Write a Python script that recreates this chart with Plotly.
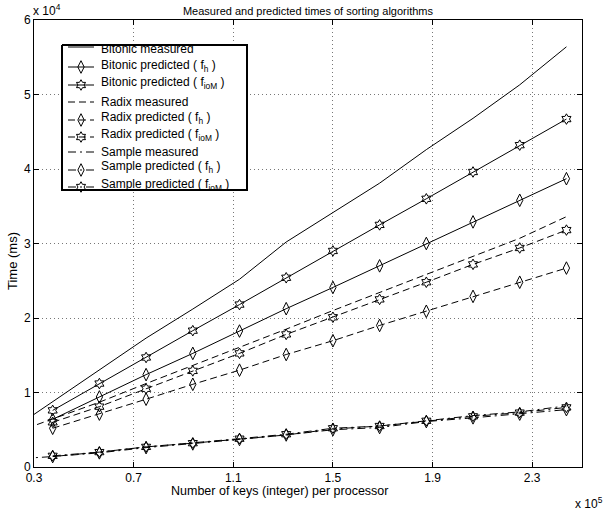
import plotly.graph_objects as go

# x: number of keys per processor (x 1e5)
keys_measured = [0.1875, 0.375, 0.5625, 0.75, 0.9375, 1.125, 1.3125, 1.5, 1.6875, 1.875, 2.0625, 2.25, 2.4375]
keys_pred = [0.375, 0.5625, 0.75, 0.9375, 1.125, 1.3125, 1.5, 1.6875, 1.875, 2.0625, 2.25, 2.4375]

# times (ms, x 1e4)
bitonic_measured = [0.45, 0.88, 1.30, 1.73, 2.12, 2.52, 3.02, 3.41, 3.81, 4.26, 4.68, 5.13, 5.64]
bitonic_fh = [0.64, 0.94, 1.24, 1.525, 1.825, 2.125, 2.41, 2.70, 3.00, 3.29, 3.58, 3.87]
bitonic_fiom = [0.76, 1.12, 1.47, 1.83, 2.18, 2.54, 2.90, 3.25, 3.60, 3.96, 4.32, 4.67]

radix_measured = [0.42, 0.65, 0.87, 1.12, 1.36, 1.60, 1.85, 2.10, 2.34, 2.58, 2.82, 3.07, 3.36]
radix_fh = [0.52, 0.71, 0.91, 1.11, 1.30, 1.51, 1.695, 1.90, 2.09, 2.29, 2.48, 2.67]
radix_fiom = [0.60, 0.81, 1.05, 1.29, 1.525, 1.78, 2.01, 2.25, 2.48, 2.72, 2.94, 3.18]

sample_measured = [0.10, 0.14, 0.20, 0.27, 0.32, 0.38, 0.43, 0.51, 0.55, 0.62, 0.69, 0.74, 0.82]
sample_fh = [0.14, 0.19, 0.26, 0.31, 0.37, 0.43, 0.50, 0.53, 0.61, 0.66, 0.71, 0.77]
sample_fiom = [0.15, 0.20, 0.27, 0.32, 0.38, 0.44, 0.52, 0.55, 0.62, 0.68, 0.73, 0.80]

x_ticks = [0.3, 0.7, 1.1, 1.5, 1.9, 2.3]
x_ticklabels = ["0.3", "0.7", "1.1", "1.5", "1.9", "2.3"]
y_ticks = [0, 1, 2, 3, 4, 5, 6]

FONT = "Liberation Sans, Arial, Helvetica, sans-serif"
DASH = "7px,4px"
DASHDOT = "8px,4px,2px,4px"
DIAMOND = "diamond-tall-open"
HEX = "hexagram-open"

series = [
    ("Bitonic measured", keys_measured, bitonic_measured, "solid", None),
    ("Bitonic predicted ( f<sub>h</sub> )", keys_pred, bitonic_fh, "solid", DIAMOND),
    ("Bitonic predicted ( f<sub>ioM</sub> )", keys_pred, bitonic_fiom, "solid", HEX),
    ("Radix measured", keys_measured, radix_measured, DASH, None),
    ("Radix predicted ( f<sub>h</sub> )", keys_pred, radix_fh, DASH, DIAMOND),
    ("Radix predicted ( f<sub>ioM</sub> )", keys_pred, radix_fiom, DASH, HEX),
    ("Sample measured", keys_measured, sample_measured, DASHDOT, None),
    ("Sample predicted ( f<sub>h</sub> )", keys_pred, sample_fh, DASHDOT, DIAMOND),
    ("Sample predicted ( f<sub>ioM</sub> )", keys_pred, sample_fiom, DASHDOT, HEX),
]

# layout geometry (pixels)
W, H = 605, 513
ML, MR, MT, MB = 34, 23, 20, 46
PW, PH = W - ML - MR, H - MT - MB

def marker_style(sym):
    return dict(symbol=sym, size=9 if sym == DIAMOND else 8, color="black",
                line=dict(width=1, color="black"))

fig = go.Figure()
for name, xs, ys, dash, sym in series:
    fig.add_trace(go.Scatter(x=xs, y=ys, name=name, showlegend=False,
                             mode="lines" if sym is None else "lines+markers",
                             line=dict(color="black", width=1, dash=dash),
                             marker=marker_style(sym) if sym else None))

# ---- legend box drawn on a hidden overlay axis measured in pixels from the plot's top-left ----
LEG_L, LEG_T, LEG_R, LEG_B = 62 - ML, 45 - MT, 247 - ML, 190 - MT
fig.add_trace(go.Scatter(x=[LEG_L, LEG_R, LEG_R, LEG_L, LEG_L],
                         y=[LEG_T, LEG_T, LEG_B, LEG_B, LEG_T],
                         mode="lines", fill="toself", fillcolor="white",
                         line=dict(color="black", width=2),
                         xaxis="x2", yaxis="y2", showlegend=False, hoverinfo="skip"))
line_off = [2, 22, 40, 57, 75, 92, 107, 125, 142]
text_off = [4, 21, 38, 57, 73, 90, 107, 122, 140]
for (name, xs, ys, dash, sym), lo, to in zip(series, line_off, text_off):
    yy = LEG_T + lo
    fig.add_trace(go.Scatter(x=[68 - ML, 94 - ML], y=[yy, yy], mode="lines",
                             line=dict(color="black", width=1, dash=dash),
                             xaxis="x2", yaxis="y2", showlegend=False, hoverinfo="skip"))
    if sym:
        fig.add_trace(go.Scatter(x=[81 - ML], y=[yy], mode="markers", marker=marker_style(sym),
                                 xaxis="x2", yaxis="y2", showlegend=False, hoverinfo="skip"))
    fig.add_annotation(text=name, xref="x2", yref="y2", x=99 - ML, y=LEG_T + to,
                       xanchor="left", yanchor="middle", showarrow=False,
                       font=dict(family=FONT, size=12, color="black"))

axis_common = dict(showline=True, linecolor="black", linewidth=1, mirror="ticks",
                   ticks="inside", ticklen=5, tickcolor="black", automargin=False,
                   showgrid=True, gridcolor="#777777", gridwidth=1, griddash="1px,3px",
                   zeroline=False, tickfont=dict(family=FONT, size=12, color="black"))

fig.update_xaxes(range=[0.3, 2.5], tickvals=x_ticks, ticktext=x_ticklabels, **axis_common)
fig.update_yaxes(range=[0, 6], tickvals=y_ticks, **axis_common)

fig.update_layout(
    xaxis2=dict(overlaying="x", range=[0, PW], visible=False, fixedrange=True, anchor="y2"),
    yaxis2=dict(overlaying="y", range=[PH, 0], visible=False, fixedrange=True, anchor="x2"),
)

# axis labels and exponent labels
fig.add_annotation(text="Number of keys (integer) per processor", xref="paper", yref="paper",
                   x=(279 - ML) / PW, y=0, xanchor="center", yanchor="middle", yshift=-24,
                   showarrow=False, font=dict(family=FONT, size=12.5, color="black"))
fig.add_annotation(text="Time (ms)", xref="paper", yref="paper", textangle=-90,
                   x=0, y=(H - MB - 261) / PH, xanchor="center", yanchor="middle", xshift=-22,
                   showarrow=False, font=dict(family=FONT, size=13, color="black"))
fig.add_annotation(text="x 10<sup>4</sup>", xref="paper", yref="paper", x=0, y=1,
                   xanchor="left", yanchor="bottom", xshift=-3, yshift=0, showarrow=False,
                   font=dict(family=FONT, size=12, color="black"))
fig.add_annotation(text="x 10<sup>5</sup>", xref="paper", yref="paper", x=1, y=0,
                   xanchor="left", yanchor="middle", xshift=-9, yshift=-36, showarrow=False,
                   font=dict(family=FONT, size=12, color="black"))

fig.update_layout(
    width=W, height=H,
    margin=dict(l=ML, r=MR, t=MT, b=MB),
    paper_bgcolor="white", plot_bgcolor="white",
    title=dict(text="Measured and predicted times of sorting algorithms", x=(ML + PW / 2) / W,
               xanchor="center", y=1 - 11 / H, yanchor="middle",
               font=dict(family=FONT, size=11, color="black")),
    showlegend=False,
)

fig.write_html("out.html", config={"displayModeBar": False},
               post_script="document.body.style.margin='0px';document.body.style.overflow='hidden';")
